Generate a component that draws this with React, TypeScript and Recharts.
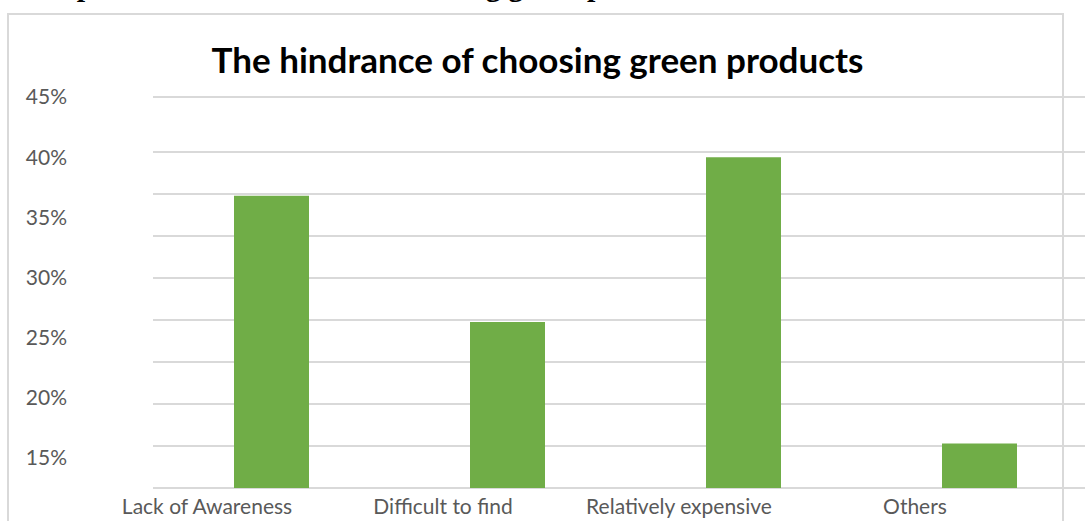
import React from 'react';
import { BarChart, Bar, XAxis, YAxis, CartesianGrid, ReferenceLine } from 'recharts';

const categories = ['Lack of Awareness', 'Difficult to find', 'Relatively expensive', 'Others'];
const shares = [0.368, 0.263, 0.4, 0.162];
const yTicks = [0.15, 0.2, 0.25, 0.3, 0.35, 0.4, 0.45];
const gridTicks = [0, 0.05, 0.1, 0.15, 0.2, 0.25, 0.3, 0.35, 0.4];
const chartTitle = 'The hindrance of choosing green products';
const headingText = 'Impact of the hindrance of choosing green products';

const data = categories.map((name, i) => ({ name, value: shares[i] }));

const FONT = 'Lato, "Open Sans", sans-serif';
const GRID = '#d9d9d9';

const XTick = (props: any) => {
  const { x, y, payload } = props;
  return (
    <text x={x} y={y} dx={-64} dy={18} textAnchor="middle" fill="#595959" fontSize={21} fontFamily={FONT}>
      {payload.value}
    </text>
  );
};

export default function App() {
  return (
    <div style={{ position: 'relative', width: 1085, height: 521, overflow: 'hidden', background: '#fff' }}>
      <style>{`body{margin:0;overflow:hidden;}`}</style>
      <div style={{ position: 'absolute', left: 0, top: 0, width: 1085, height: 12, overflow: 'hidden' }}>
        <div style={{ position: 'absolute', left: 40, bottom: 11, fontFamily: '"Liberation Serif", serif', fontWeight: 700, fontSize: 30, whiteSpace: 'nowrap', lineHeight: '30px', color: '#000' }}>
          {headingText}
        </div>
      </div>
      <div style={{ position: 'absolute', left: 7, top: 13, width: 1057, height: 540, border: `2px solid ${GRID}`, boxSizing: 'border-box' }} />
      <div style={{ position: 'absolute', left: 0, top: 0 }}>
        <BarChart width={1100} height={521} data={data} margin={{ top: 97, right: 3, bottom: 0, left: 0 }}>
          <CartesianGrid yAxisId="grid" vertical={false} stroke={GRID} strokeWidth={2} />
          <XAxis dataKey="name" axisLine={false} tickLine={false} height={33} tick={<XTick />} interval={0} />
          <YAxis
            yAxisId="left"
            domain={[0.125, 0.45]}
            ticks={yTicks}
            allowDataOverflow
            width={153}
            axisLine={false}
            tickLine={false}
            tickSize={0}
            tickMargin={26}
            tickFormatter={(v: number) => `${Math.round(v * 100)}%`}
            tick={{ fill: '#595959', fontSize: 21, fontFamily: FONT }}
          />
          <YAxis yAxisId="grid" hide domain={[0, 0.4655]} ticks={gridTicks} allowDataOverflow />
          <ReferenceLine yAxisId="left" y={0.45} stroke={GRID} strokeWidth={2} />
          <Bar yAxisId="left" dataKey="value" fill="#70ad47" barSize={75} isAnimationActive={false} />
        </BarChart>
      </div>
      <div style={{ position: 'absolute', left: 0, width: 1075, top: 42, lineHeight: '35px', textAlign: 'center', fontFamily: FONT, fontWeight: 700, fontSize: 35, color: '#000' }}>
        {chartTitle}
      </div>
    </div>
  );
}
